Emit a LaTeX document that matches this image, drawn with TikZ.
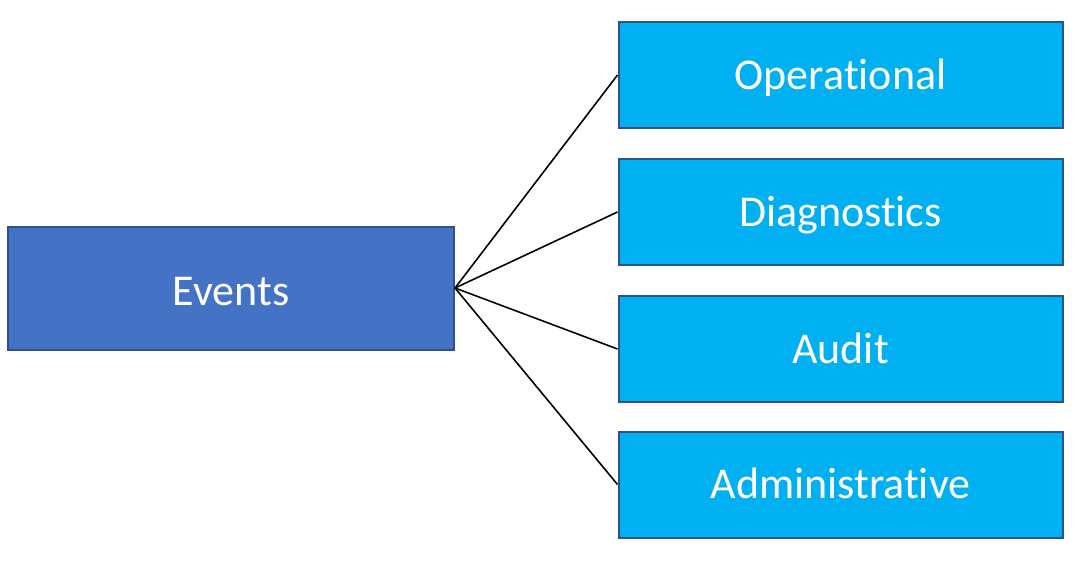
\documentclass[tikz,border=0pt]{standalone}
\usepackage{fontspec}
\setmainfont{Carlito}[Ligatures={NoCommon}]
\definecolor{evblue}{HTML}{4472C4}
\definecolor{evedge}{HTML}{2F528F}
\definecolor{catblue}{HTML}{00B0F0}
\definecolor{catedge}{HTML}{2F528F}
\begin{document}
\begin{tikzpicture}[x=0.75pt,y=-0.75pt,
  evbox/.style={draw=evedge,line width=1.5pt,fill=evblue,text=white,minimum width=446*0.75pt,minimum height=123*0.75pt,inner sep=0pt,text height=27pt,text depth=1pt,font=\fontsize{33}{40}\selectfont},
  catbox/.style={draw=catedge,line width=1.5pt,fill=catblue,text=white,minimum width=444*0.75pt,minimum height=106*0.75pt,inner sep=0pt,text height=23pt,text depth=2pt,font=\fontsize{33}{40}\selectfont},
  link/.style={draw=black,line width=1.2pt}]
\useasboundingbox (0,0) rectangle (1087,579);
\node[evbox] (events) at (231,288) {Events};
\node[catbox] (op) at (840.5,75) {Operational};
\node[catbox] (diag) at (840.5,212) {Diagnostics};
\node[catbox] (audit) at (840.5,349) {Audit};
\node[catbox] (admin) at (840.5,484.5) {Administrative};
\foreach \t in {op,diag,audit,admin}
  \draw[link] (events.east) -- (\t.west);
\end{tikzpicture}
\end{document}
